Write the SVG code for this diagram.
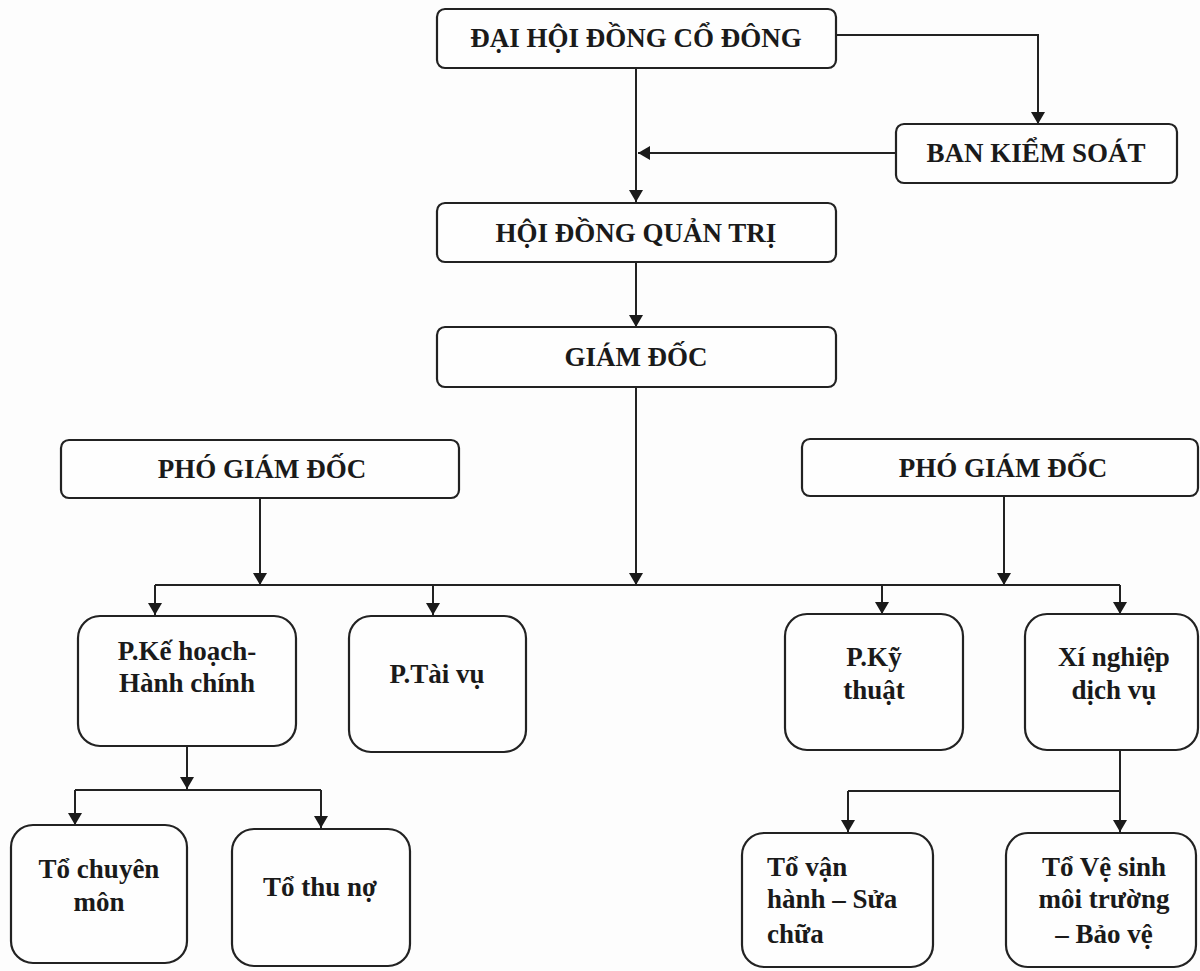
<svg xmlns="http://www.w3.org/2000/svg" width="1200" height="971" viewBox="0 0 1200 971">
<defs>
<style>
.box{fill:#fefefe;stroke:#222;stroke-width:2.2}
.t{font-family:"Liberation Serif","Times New Roman",serif;font-weight:bold;font-size:27px;fill:#1a1a1a;text-anchor:middle}
.tl{text-anchor:start}
.ln{fill:none;stroke:#222;stroke-width:2}
</style>
<marker id="ah" viewBox="0 0 12 14" refX="12" refY="7" markerWidth="12" markerHeight="14" markerUnits="userSpaceOnUse" orient="auto">
<path d="M0,0 L12,7 L0,14 Z" fill="#1a1a1a"/>
</marker>
</defs>
<rect width="1200" height="971" fill="#fdfdfd"/>
<g id="connectors">
<path class="ln" d="M636,68 V202" marker-end="url(#ah)"/>
<path class="ln" d="M836,35 H1038 V124" marker-end="url(#ah)"/>
<path class="ln" d="M896,153 H638" marker-end="url(#ah)"/>
<path class="ln" d="M636,262 V327" marker-end="url(#ah)"/>
<path class="ln" d="M636,387 V585" marker-end="url(#ah)"/>
<path class="ln" d="M260,498 V585" marker-end="url(#ah)"/>
<path class="ln" d="M1004,496 V585" marker-end="url(#ah)"/>
<path class="ln" d="M155,585 H1120"/>
<path class="ln" d="M155,585 V615" marker-end="url(#ah)"/>
<path class="ln" d="M433,585 V615" marker-end="url(#ah)"/>
<path class="ln" d="M882,585 V614" marker-end="url(#ah)"/>
<path class="ln" d="M1120,585 V614" marker-end="url(#ah)"/>
<path class="ln" d="M187,746 V789" marker-end="url(#ah)"/>
<path class="ln" d="M75,790 H321"/>
<path class="ln" d="M75,790 V825" marker-end="url(#ah)"/>
<path class="ln" d="M321,790 V828" marker-end="url(#ah)"/>
<path class="ln" d="M1120,750 V832" marker-end="url(#ah)"/>
<path class="ln" d="M848,791 H1120"/>
<path class="ln" d="M848,791 V832" marker-end="url(#ah)"/>
</g>
<g id="dhdcd">
<rect class="box" x="437" y="9" width="399" height="59" rx="8"/>
<text class="t" x="636" y="47">ĐẠI HỘI ĐỒNG CỔ ĐÔNG</text>
</g>
<g id="bks">
<rect class="box" x="896" y="124" width="281" height="59" rx="8"/>
<text class="t" x="1036" y="162">BAN KIỂM SOÁT</text>
</g>
<g id="hdqt">
<rect class="box" x="437" y="203" width="399" height="59" rx="8"/>
<text class="t" x="636" y="242">HỘI ĐỒNG QUẢN TRỊ</text>
</g>
<g id="gd">
<rect class="box" x="437" y="327" width="399" height="60" rx="8"/>
<text class="t" x="636" y="366">GIÁM ĐỐC</text>
</g>
<g id="pgd-left">
<rect class="box" x="61" y="440" width="398" height="58" rx="8"/>
<text class="t" x="262" y="478">PHÓ GIÁM ĐỐC</text>
</g>
<g id="pgd-right">
<rect class="box" x="802" y="439" width="396" height="57" rx="8"/>
<text class="t" x="1003" y="477">PHÓ GIÁM ĐỐC</text>
</g>
<g id="p-kehoach">
<rect class="box" x="78" y="616" width="218" height="130" rx="22"/>
<text class="t" x="187" y="660">P.Kế hoạch-</text>
<text class="t" x="187" y="692">Hành chính</text>
</g>
<g id="p-taivu">
<rect class="box" x="349" y="616" width="177" height="136" rx="22"/>
<text class="t" x="437" y="683">P.Tài vụ</text>
</g>
<g id="p-kythuat">
<rect class="box" x="785" y="614" width="178" height="136" rx="22"/>
<text class="t" x="874" y="666">P.Kỹ</text>
<text class="t" x="874" y="699">thuật</text>
</g>
<g id="xinghiep">
<rect class="box" x="1025" y="614" width="173" height="136" rx="22"/>
<text class="t" x="1114" y="666">Xí nghiệp</text>
<text class="t" x="1114" y="699">dịch vụ</text>
</g>
<g id="to-chuyenmon">
<rect class="box" x="11" y="825" width="176" height="138" rx="22"/>
<text class="t" x="99" y="878">Tổ chuyên</text>
<text class="t" x="99" y="911">môn</text>
</g>
<g id="to-thuno">
<rect class="box" x="232" y="829" width="178" height="137" rx="22"/>
<text class="t" x="320" y="896">Tổ thu nợ</text>
</g>
<g id="to-vanhanh">
<rect class="box" x="742" y="833" width="191" height="134" rx="22"/>
<text class="t tl" x="767" y="876">Tổ vận</text>
<text class="t tl" x="767" y="908">hành – Sửa</text>
<text class="t tl" x="767" y="943">chữa</text>
</g>
<g id="to-vesinh">
<rect class="box" x="1006" y="833" width="190" height="134" rx="22"/>
<text class="t" x="1104" y="876">Tổ Vệ sinh</text>
<text class="t" x="1104" y="908">môi trường</text>
<text class="t" x="1104" y="943">– Bảo vệ</text>
</g>
</svg>
